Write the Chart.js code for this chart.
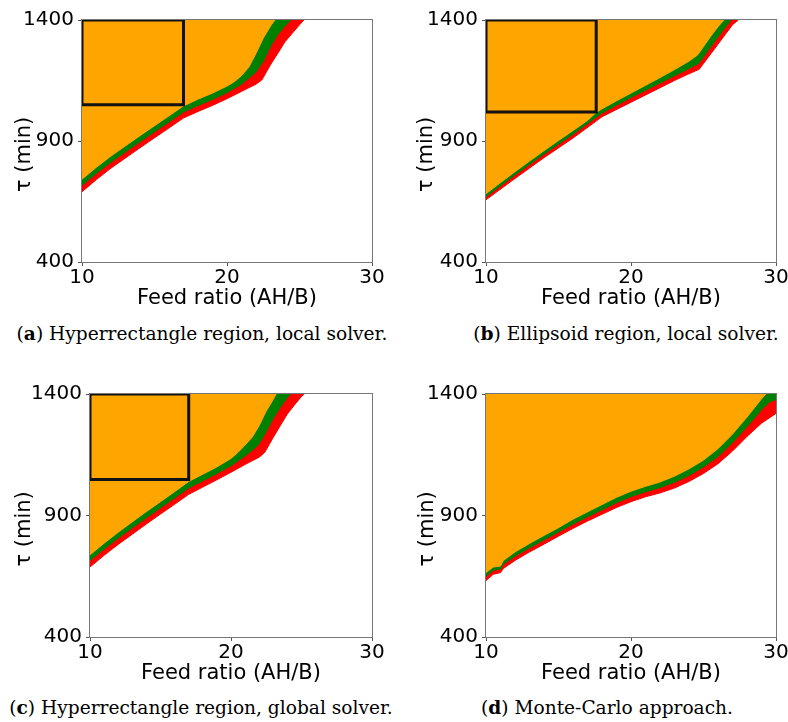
<!DOCTYPE html>
<html><head><meta charset="utf-8">
<script src="https://cdn.jsdelivr.net/npm/chart.js@4/dist/chart.umd.min.js"></script>
<style>
body{margin:0;width:788px;height:722px;background:#fff;position:relative;overflow:hidden}
canvas{position:absolute}
.cap{position:absolute;width:400px;text-align:center;font-family:'DejaVu Serif';font-size:18.6px;line-height:20px;color:#000;white-space:nowrap}
</style></head><body>
<canvas id="pa" width="394" height="322" style="left:0;top:0"></canvas>
<canvas id="pb" width="394" height="322" style="left:394px;top:0"></canvas>
<canvas id="pc" width="394" height="336" style="left:0;top:361px"></canvas>
<canvas id="pd" width="394" height="336" style="left:394px;top:361px"></canvas>
<div class="cap" style="left:2px;top:324px">(<b>a</b>) Hyperrectangle region, local solver.</div>
<div class="cap" style="left:426px;top:324px">(<b>b</b>) Ellipsoid region, local solver.</div>
<div class="cap" style="left:1px;top:698px">(<b>c</b>) Hyperrectangle region, global solver.</div>
<div class="cap" style="left:407px;top:698px">(<b>d</b>) Monte-Carlo approach.</div>
<script>
// ---- axis definitions ----
const xTicks = [10, 20, 30];
const yTicks = [400, 900, 1400];
const xTitle = 'Feed ratio (AH/B)';
const yTitle = 'τ (min)';

// ---- (a) Hyperrectangle region, local solver ----
const aOrangeX = [10, 11, 12, 13, 14, 15, 16, 17, 18, 19, 20, 20.5, 21, 21.5, 22, 22.5, 23, 23.3];
const aOrangeY = [742, 792, 838, 880, 922, 963, 1004, 1045, 1073, 1098, 1127, 1145, 1170, 1205, 1262, 1325, 1375, 1400];
const aGreenX = [10, 11, 12, 13, 14, 15, 16, 17, 18, 19, 20, 21, 21.5, 22, 22.5, 23, 23.5, 24, 24.4];
const aGreenY = [717, 767, 813, 855, 897, 938, 979, 1020, 1047, 1072, 1100, 1135, 1160, 1185, 1230, 1290, 1340, 1375, 1400];
const aRedX = [10, 11, 12, 13, 14, 15, 16, 17, 18, 19, 20, 21, 21.5, 22, 22.4, 23, 23.5, 24, 24.5, 25, 25.3];
const aRedY = [690, 741, 788, 830, 872, 913, 954, 995, 1022, 1047, 1075, 1105, 1120, 1135, 1152, 1215, 1262, 1310, 1345, 1380, 1400];
const aBoxX = [10, 17];
const aBoxY = [1050, 1400];

// ---- (b) Ellipsoid region, local solver ----
const bOrangeX = [10, 11, 12, 13, 14, 15, 16, 17, 17.6, 18, 19, 20, 21, 22, 23, 24, 24.6, 25, 25.5, 26, 26.4];
const bOrangeY = [682, 728, 773, 817, 860, 902, 943, 985, 1018, 1033, 1066, 1098, 1130, 1162, 1195, 1230, 1256, 1290, 1333, 1372, 1400];
const bGreenX = [10, 12, 14, 16, 18, 20, 22, 23, 24, 24.7, 25, 25.5, 26, 26.5, 26.9];
const bGreenY = [670, 760, 846, 928, 1016, 1080, 1140, 1170, 1200, 1222, 1248, 1290, 1330, 1370, 1400];
const bRedX = [10, 12, 14, 16, 18, 20, 22, 23, 24, 24.7, 25, 25.5, 26, 26.5, 27, 27.4];
const bRedY = [657, 745, 831, 912, 1000, 1060, 1120, 1150, 1178, 1196, 1220, 1260, 1300, 1340, 1380, 1400];
const bBoxX = [10, 17.6];
const bBoxY = [1020, 1400];

// ---- (c) Hyperrectangle region, global solver ----
const cOrangeX = [10, 11, 12, 13, 14, 15, 16, 17, 18, 19, 20, 20.5, 21, 21.5, 22, 22.5, 23, 23.2];
const cOrangeY = [738, 786, 831, 874, 916, 957, 998, 1040, 1070, 1100, 1135, 1160, 1190, 1222, 1270, 1330, 1378, 1400];
const cGreenX = [10, 11, 12, 13, 14, 15, 16, 17, 18, 19, 20, 21, 21.5, 22, 22.5, 23, 23.5, 24, 24.2];
const cGreenY = [715, 762, 807, 849, 891, 932, 972, 1013, 1043, 1073, 1105, 1145, 1168, 1195, 1245, 1300, 1345, 1385, 1400];
const cRedX = [10, 11, 12, 13, 14, 15, 16, 17, 18, 19, 20, 21, 21.5, 22, 22.4, 23, 23.5, 24, 24.5, 25, 25.2];
const cRedY = [688, 736, 781, 823, 865, 906, 946, 987, 1017, 1047, 1078, 1110, 1125, 1140, 1160, 1222, 1270, 1318, 1355, 1390, 1400];
const cBoxX = [10, 17];
const cBoxY = [1048, 1400];

// ---- (d) Monte-Carlo approach ----
const dOrangeX = [10, 10.5, 11, 11.2, 12, 13, 14, 15, 16, 17, 18, 19, 20, 21, 22, 23, 24, 25, 26, 27, 28, 29, 29.3];
const dOrangeY = [665, 688, 692, 715, 750, 785, 818, 850, 885, 915, 945, 975, 1000, 1020, 1038, 1062, 1092, 1128, 1175, 1235, 1305, 1380, 1400];
const dGreenX = [10, 10.5, 11, 11.2, 12, 13, 14, 15, 16, 17, 18, 19, 20, 21, 22, 23, 24, 25, 26, 27, 28, 29, 29.5, 30];
const dGreenY = [650, 675, 680, 700, 733, 767, 800, 832, 865, 895, 924, 953, 978, 998, 1015, 1037, 1065, 1100, 1143, 1200, 1265, 1335, 1365, 1378];
const dRedX = [10, 10.5, 11, 11.2, 12, 13, 14, 15, 16, 17, 18, 19, 20, 21, 22, 23, 24, 25, 26, 27, 28, 29, 30];
const dRedY = [632, 658, 665, 682, 715, 750, 782, 815, 847, 877, 905, 933, 957, 977, 993, 1013, 1040, 1073, 1113, 1165, 1225, 1280, 1320];

const ORANGE = '#FFA500', GREEN = '#008000', RED = '#FF0000';

function pts(xs, ys) { return xs.map((x, i) => ({x: x, y: ys[i]})); }
function boxPts(bx, by) {
  return [{x: bx[0], y: by[1]}, {x: bx[1], y: by[1]}, {x: bx[1], y: by[0]}, {x: bx[0], y: by[0]}, {x: bx[0], y: by[1]}];
}

const framePlugin = {
  id: 'frame',
  afterDatasetsDraw(chart) {
    const {ctx, chartArea: a} = chart;
    ctx.save();
    ctx.strokeStyle = '#777';
    ctx.lineWidth = 1;
    ctx.strokeRect(Math.round(a.left) - 0.5, Math.round(a.top) - 0.5, Math.round(a.right - a.left) + 1, Math.round(a.bottom - a.top) + 1);
    ctx.restore();
  }
};

function panel(id, p) {
  const datasets = [];
  if (p.box) {
    datasets.push({data: boxPts(p.box[0], p.box[1]), borderColor: '#111', borderWidth: 3, fill: false, pointRadius: 0, tension: 0});
  }
  [[p.orange, ORANGE], [p.green, GREEN], [p.red, RED]].forEach(([c, col]) => {
    datasets.push({data: pts(c[0], c[1]), borderColor: col, backgroundColor: col, borderWidth: 1, fill: 'end', pointRadius: 0, tension: 0});
  });
  new Chart(document.getElementById(id), {
    type: 'line',
    data: {datasets: datasets},
    plugins: [framePlugin],
    options: {
      responsive: false, animation: false, devicePixelRatio: 1,
      layout: {padding: {left: 0, top: p.padTop, right: p.padRight, bottom: 0}},
      plugins: {legend: {display: false}, tooltip: {enabled: false}},
      scales: {
        x: {
          type: 'linear', min: 10, max: 30,
          afterBuildTicks: s => { s.ticks = xTicks.map(v => ({value: v})); },
          afterFit: s => { s.height = 60; s.paddingLeft = 0; s.paddingRight = 0; },
          grid: {display: true, drawOnChartArea: false, drawTicks: true, tickLength: 4, tickColor: '#555'},
          border: {display: false},
          ticks: {color: '#000', padding: 1.5, maxRotation: 0, callback: v => String(v), font: {family: 'DejaVu Sans', size: 20, lineHeight: 1}},
          title: {display: true, text: xTitle, color: '#000', padding: {top: 0, bottom: 11}, font: {family: 'DejaVu Sans', size: 21, lineHeight: 1.2}}
        },
        y: {
          type: 'linear', min: 400, max: 1400,
          afterBuildTicks: s => { s.ticks = yTicks.map(v => ({value: v})); },
          afterFit: s => { s.width = p.yWidth; s.paddingTop = 0; s.paddingBottom = 0; },
          grid: {display: true, drawOnChartArea: false, drawTicks: true, tickLength: 4, tickColor: '#555'},
          border: {display: false},
          ticks: {color: '#000', padding: 4, callback: v => String(v), font: {family: 'DejaVu Sans', size: 20, lineHeight: 1}},
          title: {display: true, text: yTitle + '    ', color: '#000', padding: {top: p.yTitlePad, bottom: 0}, font: {family: 'DejaVu Sans', size: 21, lineHeight: 1.2}}
        }
      }
    }
  });
}

panel('pa', {yWidth: 82, padTop: 20, padRight: 22, yTitlePad: 12.4,
  orange: [aOrangeX, aOrangeY], green: [aGreenX, aGreenY], red: [aRedX, aRedY], box: [aBoxX, aBoxY]});
panel('pb', {yWidth: 92, padTop: 20, padRight: 12, yTitlePad: 20.4,
  orange: [bOrangeX, bOrangeY], green: [bGreenX, bGreenY], red: [bRedX, bRedY], box: [bBoxX, bBoxY]});
panel('pc', {yWidth: 90, padTop: 33, padRight: 22, yTitlePad: 11.6,
  orange: [cOrangeX, cOrangeY], green: [cGreenX, cGreenY], red: [cRedX, cRedY], box: [cBoxX, cBoxY]});
panel('pd', {yWidth: 92, padTop: 33, padRight: 12, yTitlePad: 21.4,
  orange: [dOrangeX, dOrangeY], green: [dGreenX, dGreenY], red: [dRedX, dRedY], box: null});
</script>
</body></html>
